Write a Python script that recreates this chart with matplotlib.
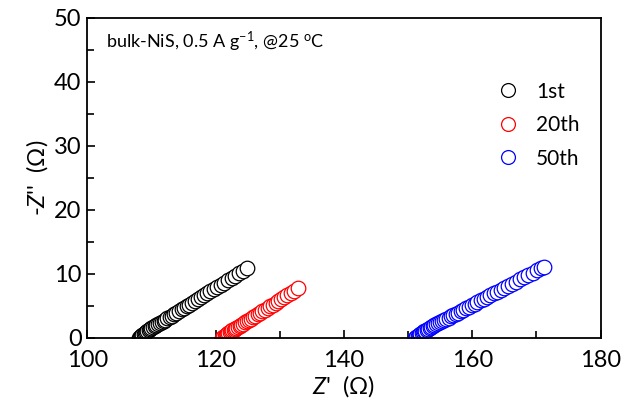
import matplotlib
matplotlib.use('Agg')
from matplotlib import pyplot as plt

plt.rcParams['font.family'] = ['Lato', 'DejaVu Sans']
plt.rcParams['mathtext.fontset'] = 'custom'
plt.rcParams['mathtext.rm'] = 'Lato'
plt.rcParams['mathtext.it'] = 'Lato:italic'

# 第1圈
x_1st = [108.0, 108.2, 108.4, 108.6, 108.8, 109.0, 109.2, 109.4, 109.6, 109.8,
         110.0, 110.25, 110.5, 110.75, 111.0, 111.3, 111.6, 111.9, 112.2, 112.5,
         112.85, 113.2, 113.55, 113.9, 114.3, 114.7, 115.1, 115.5, 115.9, 116.35,
         116.8, 117.25, 117.7, 118.2, 118.7, 119.2, 119.7, 120.25, 120.8, 121.35,
         121.9, 122.5, 123.1, 123.7, 124.3, 124.95]
y_1st = [0.00, 0.16, 0.32, 0.48, 0.64, 0.80, 0.95, 1.10, 1.24, 1.38,
         1.51, 1.67, 1.82, 1.96, 2.10, 2.29, 2.48, 2.67, 2.86, 3.05,
         3.27, 3.49, 3.71, 3.93, 4.18, 4.43, 4.68, 4.94, 5.19, 5.47,
         5.75, 6.04, 6.32, 6.64, 6.95, 7.27, 7.58, 7.93, 8.28, 8.62,
         8.97, 9.35, 9.73, 10.11, 10.48, 10.89]

# 第20圈
x_20th = [121.0, 121.2, 121.4, 121.6, 121.8, 122.0, 122.2, 122.4, 122.6, 122.8,
          123.0, 123.25, 123.5, 123.75, 124.0, 124.3, 124.6, 124.9, 125.2, 125.5,
          125.85, 126.2, 126.55, 126.9, 127.3, 127.7, 128.1, 128.5, 128.9, 129.35,
          129.8, 130.25, 130.7, 131.2, 131.7, 132.25, 132.85]
y_20th = [0.00, 0.15, 0.30, 0.45, 0.60, 0.75, 0.89, 1.03, 1.16, 1.29,
          1.42, 1.57, 1.72, 1.87, 2.02, 2.22, 2.41, 2.61, 2.80, 3.00,
          3.22, 3.45, 3.68, 3.90, 4.16, 4.42, 4.68, 4.94, 5.20, 5.50,
          5.79, 6.08, 6.37, 6.70, 7.02, 7.38, 7.77]

# 第50圈
x_50th = [151.1, 151.3, 151.5, 151.7, 151.9, 152.1, 152.3, 152.5, 152.7, 152.9,
          153.1, 153.35, 153.6, 153.85, 154.1, 154.4, 154.7, 155.0, 155.3, 155.6,
          155.95, 156.3, 156.65, 157.0, 157.4, 157.8, 158.2, 158.6, 159.0, 159.45,
          159.9, 160.35, 160.8, 161.3, 161.8, 162.3, 162.8, 163.35, 163.9, 164.45,
          165.0, 165.6, 166.2, 166.8, 167.45, 168.1, 168.75, 169.4, 170.05, 170.7,
          171.15]
y_50th = [0.00, 0.15, 0.30, 0.45, 0.60, 0.74, 0.88, 1.01, 1.14, 1.27,
          1.40, 1.55, 1.70, 1.84, 1.98, 2.14, 2.30, 2.46, 2.62, 2.78,
          2.97, 3.16, 3.34, 3.53, 3.75, 3.96, 4.18, 4.39, 4.61, 4.85,
          5.09, 5.33, 5.57, 5.84, 6.11, 6.38, 6.65, 6.94, 7.24, 7.53,
          7.83, 8.15, 8.47, 8.79, 9.14, 9.49, 9.84, 10.19, 10.54, 10.89,
          11.13]

labels = ['1st', '20th', '50th']
colors = ['black', 'red', 'blue']

fig = plt.figure(figsize=(6.27, 4.09), dpi=100)
ax = fig.add_axes([0.139, 0.174, 0.819, 0.782])

series = [(x_1st, y_1st), (x_20th, y_20th), (x_50th, y_50th)]
for (xs, ys), lab, c in zip(series, labels, colors):
    ax.plot(xs, ys, 'o', ms=10.5, mfc='white', mec=c, mew=0.9, label=lab)

ax.set_xlim(100, 180)
ax.set_ylim(0, 50)
ax.set_xticks([100, 120, 140, 160, 180])
ax.set_xticks([110, 130, 150, 170], minor=True)
ax.set_yticks([0, 10, 20, 30, 40, 50])
ax.set_yticks([5, 15, 25, 35, 45], minor=True)
ax.tick_params(which='both', direction='in', top=False, right=False, labelsize=17, width=1.2)
ax.tick_params(axis='x', pad=9)
ax.tick_params(axis='y', pad=4)
ax.tick_params(which='major', length=6)
ax.tick_params(which='minor', length=5)
for s in ax.spines.values():
    s.set_linewidth(1.3)

ax.set_xlabel("$Z$'  (Ω)", fontsize=17, labelpad=1)
ax.set_ylabel("-$Z$''  (Ω)", fontsize=17, labelpad=3)

ax.text(0.037, 0.925, r"bulk-NiS, 0.5 A g$^{-1}$, @25 $^{\mathregular{o}}$C",
        transform=ax.transAxes, fontsize=13, va='center')

leg = ax.legend(loc='upper right', bbox_to_anchor=(0.995, 0.86), frameon=False,
                fontsize=15, handletextpad=0.35, labelspacing=0.65, markerscale=0.95)

fig.savefig('out.png', dpi=100)
